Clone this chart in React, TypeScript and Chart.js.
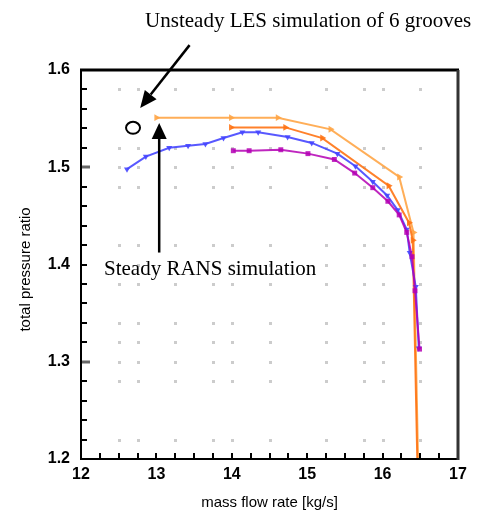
import React, { useEffect, useRef } from "react";
import { Chart, registerables } from "chart.js";

Chart.register(...registerables);

// axis ticks
const xTicks = [12, 13, 14, 15, 16, 17];
const yTicks = [1.2, 1.3, 1.4, 1.5, 1.6];

// Unsteady LES (light orange)
const lesX = [13.0, 13.99, 14.61, 15.31, 16.22, 16.41, 16.47];
const lesY = [1.551, 1.551, 1.551, 1.539, 1.49, 1.433, 1.2];

// Steady RANS, orange
const orangeX = [13.99, 14.71, 15.2, 16.08, 16.35, 16.4, 16.46];
const orangeY = [1.541, 1.541, 1.53, 1.481, 1.443, 1.425, 1.2];

// blue
const blueX = [12.61, 12.86, 13.17, 13.42, 13.65, 13.89, 14.14, 14.35, 14.74, 15.06, 15.4, 15.64, 15.87, 16.06, 16.2, 16.32, 16.36, 16.44, 16.48];
const blueY = [1.498, 1.511, 1.52, 1.522, 1.524, 1.53, 1.536, 1.536, 1.531, 1.525, 1.514, 1.501, 1.485, 1.471, 1.456, 1.436, 1.412, 1.377, 1.314];

// magenta
const magX = [14.02, 14.23, 14.65, 15.01, 15.36, 15.63, 15.87, 16.07, 16.22, 16.32, 16.39, 16.43, 16.49];
const magY = [1.517, 1.517, 1.518, 1.514, 1.508, 1.494, 1.479, 1.465, 1.451, 1.433, 1.408, 1.373, 1.313];

// dotted grid positions
const gridDotX = [12.5, 12.75, 13.25, 13.75, 14, 14.5, 15.25, 15.75, 16, 16.5];
const gridDotY = [1.58, 1.52, 1.5, 1.48, 1.42, 1.4, 1.38, 1.34, 1.32, 1.3, 1.28, 1.22];

// annotations
const lesLabel = "Unsteady LES simulation of 6 grooves";
const ransLabel = "Steady RANS simulation";
const xTitle = "mass flow rate [kg/s]";
const yTitle = "total pressure ratio";

export default function App() {
  const ref = useRef<HTMLCanvasElement>(null);

  useEffect(() => {
    document.body.style.margin = "0";
    const canvas = ref.current!;
    const pts = (xs: number[], ys: number[]) => xs.map((x, i) => ({ x, y: ys[i] }));
    const radii = (n: number, r: number, skipLast: boolean) =>
      Array.from({ length: n }, (_, i) => (skipLast && i === n - 1 ? 0 : r));

    const decor = {
      id: "decor",
      beforeDatasetsDraw(chart: any) {
        const { ctx, scales } = chart;
        const xs = scales.x, ys = scales.y;
        ctx.save();
        ctx.fillStyle = "#cccccc";
        for (const gx of gridDotX) {
          for (const gy of gridDotY) {
            const px = xs.getPixelForValue(gx);
            const py = ys.getPixelForValue(gy);
            ctx.fillRect(Math.round(px) - 1, Math.round(py) - 1, 3, 3);
          }
        }
        ctx.restore();
      },
      afterDatasetsDraw(chart: any) {
        const { ctx, chartArea: a, scales } = chart;
        const xs = scales.x, ys = scales.y;
        ctx.save();
        // ticks x
        ctx.strokeStyle = "#000";
        ctx.lineWidth = 2;
        for (let v = 12.25; v < 17; v += 0.25) {
          const px = Math.round(xs.getPixelForValue(v));
          ctx.beginPath();
          ctx.moveTo(px, a.bottom);
          ctx.lineTo(px, a.bottom - 6);
          ctx.stroke();
        }
        // ticks y
        for (let i = 1; i < 20; i++) {
          const v = 1.2 + i * 0.02;
          const py = Math.round(ys.getPixelForValue(v));
          const major = i === 5 || i === 15;
          ctx.strokeStyle = major ? "#666" : "#000";
          ctx.lineWidth = major ? 3 : 2;
          ctx.beginPath();
          ctx.moveTo(a.left, py);
          ctx.lineTo(a.left + (major ? 9 : 6), py);
          ctx.stroke();
        }
        // frame
        ctx.strokeStyle = "#000";
        ctx.lineWidth = 3;
        ctx.beginPath();
        ctx.moveTo(a.left - 1, a.top);
        ctx.lineTo(a.right + 1, a.top);
        ctx.stroke();
        ctx.lineWidth = 2;
        ctx.beginPath();
        ctx.moveTo(a.left, a.top);
        ctx.lineTo(a.left, a.bottom);
        ctx.lineTo(a.right, a.bottom);
        ctx.stroke();
        ctx.strokeStyle = "#333";
        ctx.lineWidth = 3;
        ctx.beginPath();
        ctx.moveTo(a.right, a.top);
        ctx.lineTo(a.right, a.bottom + 1);
        ctx.stroke();
        ctx.restore();
      },
      afterDraw(chart: any) {
        const { ctx, scales, chartArea: a } = chart;
        const xs = scales.x, ys = scales.y;
        const X = (v: number) => xs.getPixelForValue(v);
        const Y = (v: number) => ys.getPixelForValue(v);
        ctx.save();
        // y title
        ctx.fillStyle = "#000";
        ctx.font = '15px "Liberation Sans"';
        ctx.textAlign = "center";
        ctx.textBaseline = "middle";
        ctx.save();
        ctx.translate(26, (a.top + a.bottom) / 2 + 5);
        ctx.rotate(-Math.PI / 2);
        ctx.fillText(yTitle, 0, 0);
        ctx.restore();

        // annotation texts
        ctx.font = '21px "Liberation Serif"';
        ctx.textAlign = "left";
        ctx.textBaseline = "alphabetic";
        ctx.fillText(lesLabel, X(12.85), Y(1.644));
        ctx.fillText(ransLabel, X(12.305), Y(1.3887));

        // ellipse
        ctx.strokeStyle = "#000";
        ctx.lineWidth = 2;
        ctx.beginPath();
        ctx.ellipse(X(12.69), Y(1.5405), 7, 6, 0, 0, Math.PI * 2);
        ctx.stroke();

        const arrow = (x1: number, y1: number, x2: number, y2: number, hl: number, hw: number) => {
          const ang = Math.atan2(y2 - y1, x2 - x1);
          const bx = x2 - hl * Math.cos(ang);
          const by = y2 - hl * Math.sin(ang);
          ctx.lineWidth = 2.5;
          ctx.beginPath();
          ctx.moveTo(x1, y1);
          ctx.lineTo(bx, by);
          ctx.stroke();
          const nx = -Math.sin(ang) * hw / 2;
          const ny = Math.cos(ang) * hw / 2;
          ctx.beginPath();
          ctx.moveTo(x2, y2);
          ctx.lineTo(bx + nx, by + ny);
          ctx.lineTo(bx - nx, by - ny);
          ctx.closePath();
          ctx.fill();
        };
        ctx.fillStyle = "#000";
        arrow(X(13.44), Y(1.6256), X(12.785), Y(1.561), 17, 15);
        arrow(X(13.037), Y(1.4123), X(13.037), Y(1.5456), 16, 15);
        ctx.restore();
      },
    };

    const chart = new Chart(canvas, {
      type: "line",
      data: {
        datasets: [
          {
            data: pts(magX, magY),
            borderColor: "rgba(180,0,180,0.85)",
            backgroundColor: "rgba(180,0,180,0.85)",
            borderWidth: 2,
            pointStyle: "rect",
            pointRadius: radii(magX.length, 3.5, false),
            pointBorderWidth: 0,
          },
          {
            data: pts(blueX, blueY),
            borderColor: "rgba(70,70,255,0.9)",
            backgroundColor: "rgba(70,70,255,0.9)",
            borderWidth: 2,
            pointStyle: "triangle",
            rotation: 180,
            pointRadius: radii(blueX.length, 3.5, false),
            pointBorderWidth: 0,
          },
          {
            data: pts(orangeX, orangeY),
            borderColor: "rgba(255,115,20,0.9)",
            backgroundColor: "rgba(255,115,20,0.9)",
            borderWidth: 2,
            pointStyle: "triangle",
            rotation: 90,
            pointRadius: radii(orangeX.length, 4, true),
            pointBorderWidth: 0,
          },
          {
            data: pts(lesX, lesY),
            borderColor: "rgba(255,165,70,0.9)",
            backgroundColor: "rgba(255,165,70,0.9)",
            borderWidth: 2,
            pointStyle: "triangle",
            rotation: 90,
            pointRadius: radii(lesX.length, 4, true),
            pointBorderWidth: 0,
          },
        ],
      },
      options: {
        animation: false,
        responsive: false,
        layout: { padding: { top: 70, right: 25, left: 0, bottom: 0 } },
        plugins: { legend: { display: false }, tooltip: { enabled: false } },
        scales: {
          x: {
            type: "linear",
            min: 12,
            max: 17,
            afterFit: (s: any) => { s.height = 57; },
            afterBuildTicks: (s: any) => { s.ticks = xTicks.map((v) => ({ value: v })); },
            grid: { display: false, drawTicks: false },
            border: { display: false },
            ticks: {
              padding: 6,
              color: "#000",
              maxRotation: 0,
              autoSkip: false,
              font: { family: "Liberation Sans", size: 16, weight: "bold" },
              callback: (v: any) => String(v),
            },
            title: {
              display: true,
              text: xTitle,
              color: "#000",
              font: { family: "Liberation Sans", size: 15 },
              padding: { top: 0, bottom: 4 },
            },
          },
          y: {
            type: "linear",
            min: 1.2,
            max: 1.6,
            afterFit: (s: any) => { s.width = 81; },
            afterBuildTicks: (s: any) => { s.ticks = yTicks.map((v) => ({ value: v })); },
            grid: { display: false, drawTicks: false },
            border: { display: false },
            ticks: {
              padding: 11,
              color: "#000",
              autoSkip: false,
              font: { family: "Liberation Sans", size: 16, weight: "bold" },
              callback: (v: any) => Number(v).toFixed(1),
            },
          },
        },
      } as any,
      plugins: [decor],
    });
    return () => chart.destroy();
  }, []);

  return (
    <div style={{ width: 483, height: 516, background: "#fff" }}>
      <canvas ref={ref} width={483} height={516} style={{ display: "block" }} />
    </div>
  );
}
